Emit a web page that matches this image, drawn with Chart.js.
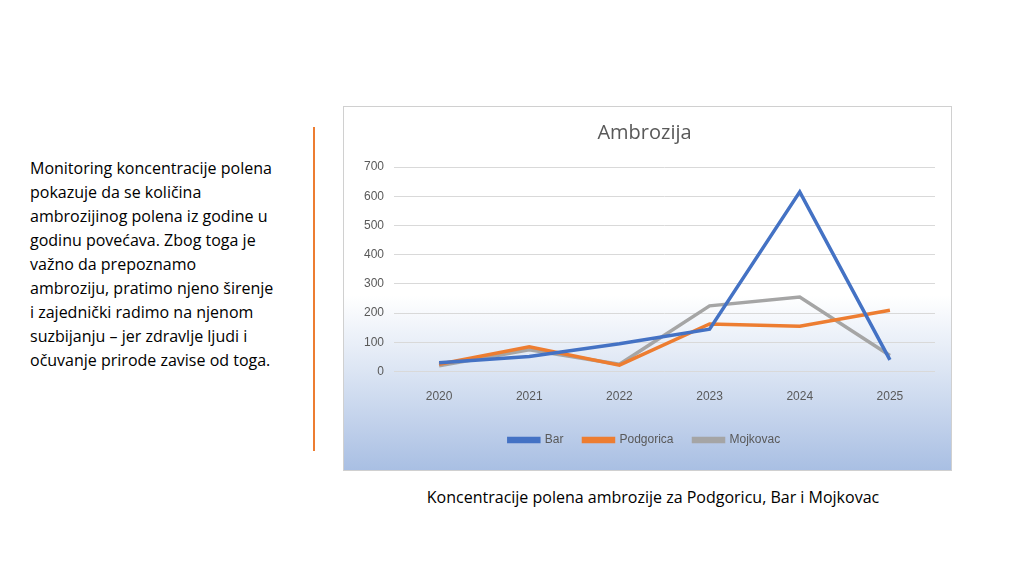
<!DOCTYPE html>
<html><head><meta charset="utf-8">
<script src="https://cdn.jsdelivr.net/npm/chart.js@4"></script>
<style>
body{margin:0;width:1024px;height:580px;background:#fff;font-family:"Open Sans",sans-serif;position:relative;overflow:hidden}
#txt{position:absolute;left:30px;top:156px;width:245px;font-size:16px;line-height:24px;color:#000}
#vline{position:absolute;left:313px;top:127px;width:2px;height:324px;background:#ed7d31}
#box{position:absolute;left:343px;top:106px;width:607px;height:363px;border:1px solid #d0d0d0;
background:linear-gradient(to bottom,#fff 0%,#fff 52%,#dde6f4 72%,#a9bfe3 100%)}
#cap{position:absolute;left:300px;width:706px;top:486px;text-align:center;font-size:16px;color:#000}
</style></head><body>
<div id="txt">Monitoring koncentracije polena pokazuje da se količina ambrozijinog polena iz godine u godinu povećava. Zbog toga je važno da prepoznamo ambroziju, pratimo njeno širenje i zajednički radimo na njenom suzbijanju – jer zdravlje ljudi i očuvanje prirode zavise od toga.</div>
<div id="vline"></div>
<div id="box"><canvas id="c" width="607" height="363"></canvas></div>
<div id="cap">Koncentracije polena ambrozije za Podgoricu, Bar i Mojkovac</div>
<script>
const years=["2020","2021","2022","2023","2024","2025"];
const bar=[30,52,95,145,615,40];
const podgorica=[25,85,22,163,155,210];
const mojkovac=[20,75,25,225,255,55];
new Chart(document.getElementById('c'),{type:'line',
data:{labels:years,datasets:[
{label:'Bar',data:bar,borderColor:'#4472c4',backgroundColor:'#4472c4'},
{label:'Podgorica',data:podgorica,borderColor:'#ed7d31',backgroundColor:'#ed7d31'},
{label:'Mojkovac',data:mojkovac,borderColor:'#a5a5a5',backgroundColor:'#a5a5a5'}]},
options:{responsive:false,animation:false,
elements:{line:{borderWidth:3.5,tension:0},point:{radius:0}},
layout:{padding:{left:10,right:16,top:8,bottom:14}},
plugins:{title:{display:true,text:'Ambrozija',color:'#595959',font:{size:20,family:'Open Sans',weight:'normal'},padding:{top:6,bottom:22}},
legend:{position:'bottom',labels:{boxWidth:30,boxHeight:3,color:'#595959',font:{size:12},padding:20}}},
scales:{y:{min:0,max:700,ticks:{stepSize:100,color:'#595959',font:{size:12},padding:10},grid:{color:'#d9d9d9',drawTicks:false},border:{display:false}},
x:{offset:true,ticks:{color:'#595959',font:{size:12},padding:10},grid:{display:false},border:{display:false}}}}});
</script></body></html>
